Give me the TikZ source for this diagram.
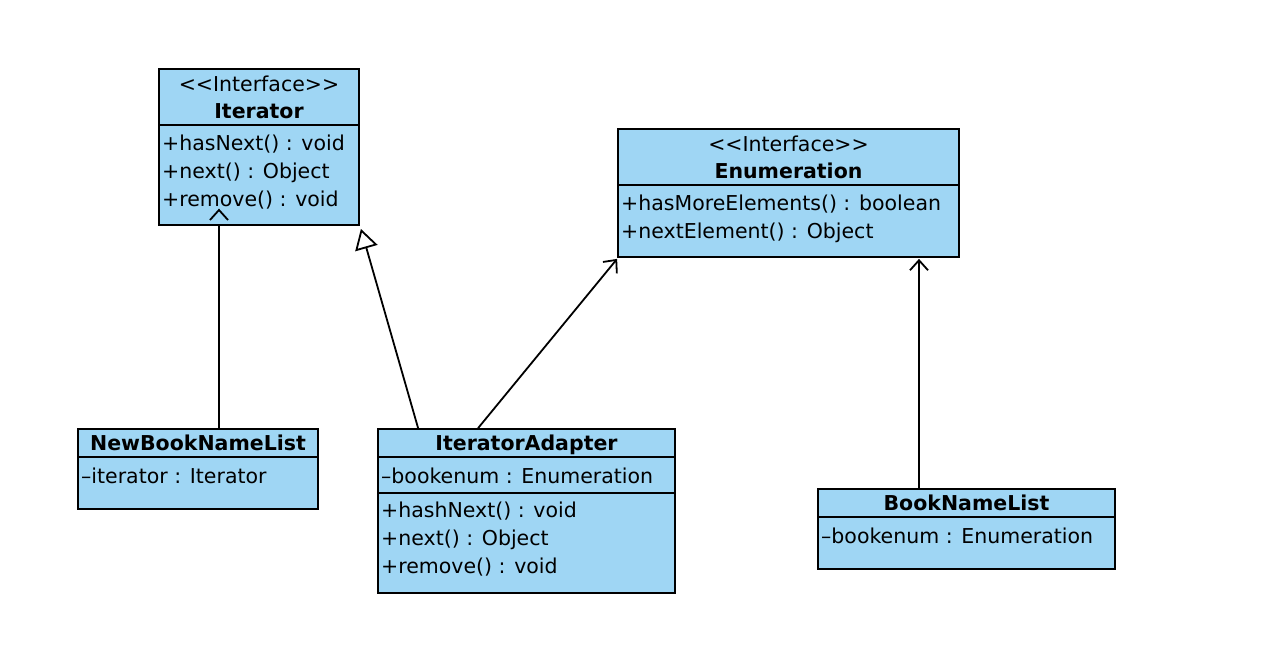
\documentclass[tikz,border=0pt]{standalone}
\usepackage{fontspec}
\setmainfont{DejaVu Sans}
\usetikzlibrary{arrows.meta,calc}
\definecolor{umlfill}{RGB}{159,214,244}
\begin{document}
\begin{tikzpicture}[x=1pt,y=-1pt,
  umlbox/.style={draw=black,line width=1.8pt,fill=umlfill,inner sep=0pt,rectangle},
  sepline/.style={line width=1.8pt},
  conn/.style={line width=1.8pt},
  txt/.style={inner sep=0pt,anchor=base west,font=\fontsize{20.5}{28}\selectfont},
  ttl/.style={inner sep=0pt,anchor=base,font=\fontsize{20.5}{28}\selectfont\bfseries},
  stereo/.style={inner sep=0pt,anchor=base,font=\fontsize{20.5}{28}\selectfont}]
\useasboundingbox (0,0) rectangle (1270,662);
\fill[white] (0,0) rectangle (1270,662);

% boxes
\node[umlbox,minimum width=200pt,minimum height=156pt] (it) at (259,147) {};
\node[umlbox,minimum width=341pt,minimum height=128pt] (en) at (788.5,193) {};
\node[umlbox,minimum width=240pt,minimum height=80pt] (nbl) at (198,469) {};
\node[umlbox,minimum width=297pt,minimum height=164pt] (ia) at (526.5,511) {};
\node[umlbox,minimum width=297pt,minimum height=80pt] (bnl) at (966.5,529) {};

% separators
\coordinate (s1) at (0,125);
\draw[sepline] (it.west |- s1) -- (it.east |- s1);
\coordinate (s2) at (0,185);
\draw[sepline] (en.west |- s2) -- (en.east |- s2);
\coordinate (s3) at (0,457);
\draw[sepline] (nbl.west |- s3) -- (nbl.east |- s3);
\draw[sepline] (ia.west |- s3) -- (ia.east |- s3);
\coordinate (s4) at (0,493);
\draw[sepline] (ia.west |- s4) -- (ia.east |- s4);
\coordinate (s5) at (0,517);
\draw[sepline] (bnl.west |- s5) -- (bnl.east |- s5);

% Iterator texts
\node[stereo] (itst) at (259,91) {<\kern0pt<Interface>\kern0pt>};
\node[ttl] (itt) at (259,118) {Iterator};
\node[txt] (it1) at (162,150) {+hasNext() : void};
\node[txt] (it2) at (162,178) {+next() : Object};
\node[txt] (it3) at (162,206) {+remove() : void};

% Enumeration texts
\node[stereo] (enst) at (788.5,151) {<\kern0pt<Interface>\kern0pt>};
\node[ttl] (ent) at (788.5,178) {Enumeration};
\node[txt] (en1) at (621,210) {+hasMoreElements() : boolean};
\node[txt] (en2) at (621,238) {+nextElement() : Object};

% NewBookNameList
\node[ttl] (nblt) at (198,450) {NewBookNameList};
\node[txt] (nbl1) at (81,483) {–iterator : Iterator};

% IteratorAdapter
\node[ttl] (iat) at (526.5,450) {IteratorAdapter};
\node[txt] (ia1) at (381,483) {–bookenum : Enumeration};
\node[txt] (ia2) at (381,517) {+hashNext() : void};
\node[txt] (ia3) at (381,545) {+next() : Object};
\node[txt] (ia4) at (381,573) {+remove() : void};

% BookNameList
\node[ttl] (bnlt) at (966.5,510) {BookNameList};
\node[txt] (bnl1) at (821,543) {–bookenum : Enumeration};

% connectors
\coordinate (a1) at (219,210);
\draw[conn] (a1 |- nbl.north) -- (a1 |- it.south);
\draw[conn] ($(a1)+(-9,10)$) -- (a1) -- ($(a1)+(9,10)$);

\draw[conn,-{Triangle[open,length=20pt,width=23pt]}] ([xshift=41pt]ia.north west) -- ($(it.south east)+(1,3)$);

\draw[conn,-{Straight Barb[length=10pt,width=18pt]}] ([xshift=101pt]ia.north west) -- ($(en.south west)+(0,1)$);

\coordinate (a4) at (919,0);
\draw[conn,-{Straight Barb[length=10pt,width=18pt]}] (a4 |- bnl.north) -- ($(a4 |- en.south)+(0,1)$);
\end{tikzpicture}
\end{document}
